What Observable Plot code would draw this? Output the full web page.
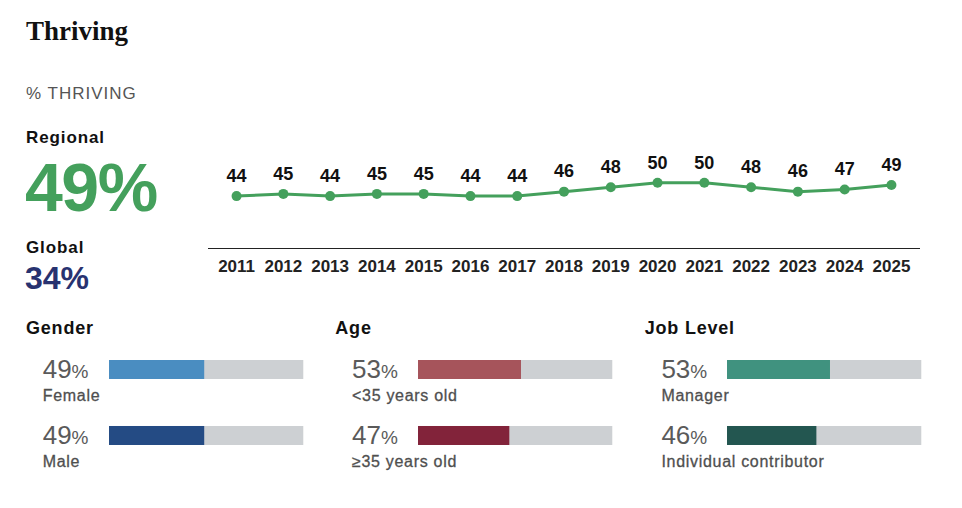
<!DOCTYPE html>
<html><head><meta charset="utf-8">
<script src="https://cdn.jsdelivr.net/npm/d3@7"></script>
<script src="https://cdn.jsdelivr.net/npm/@observablehq/plot@0.6"></script>
<style>
body{margin:0;background:#fff;}
#root{position:relative;width:962px;height:508px;overflow:hidden;font-family:"Liberation Sans",Arial,sans-serif;color:#111;}
.abs{position:absolute;white-space:nowrap;line-height:1;}
.abs svg{display:block;overflow:visible;}
</style></head><body><div id="root"></div>
<script>
// ---- data ----
const years = [2011,2012,2013,2014,2015,2016,2017,2018,2019,2020,2021,2022,2023,2024,2025];
const regional = [44,45,44,45,45,44,44,46,48,50,50,48,46,47,49];
const regionalNow = 49;
const globalNow = 34;
const groupTitles = ["Gender","Age","Job Level"];
const groupCategories = [["Female","Male"],["<35 years old","≥35 years old"],["Manager","Individual contributor"]];
const groupValues = [[49,49],[53,47],[53,46]];
const groupColors = [["#4a8dc1","#244b84"],["#a6545b","#82233a"],["#40927f","#235650"]];
const scaleMax = 100;

const green = "#44a05c";
const root = document.getElementById("root");
function addText(txt, left, top, style){
  const d = document.createElement("div");
  d.className = "abs";
  d.style.left = left + "px"; d.style.top = top + "px";
  Object.assign(d.style, style || {});
  d.innerHTML = txt;
  root.appendChild(d);
  return d;
}
function addNode(node, left, top, w){
  const d = document.createElement("div");
  d.className = "abs";
  d.style.left = left + "px"; d.style.top = top + "px";
  if (w) d.style.width = w + "px";
  d.appendChild(node);
  root.appendChild(d);
}

// header
addText("Thriving", 26, 17.6, {fontFamily:'"Liberation Serif",serif', fontWeight:"bold", fontSize:"27px", color:"#111"});
addText("% THRIVING", 26, 84.9, {fontSize:"17px", letterSpacing:"1px", color:"#555"});
addText("Regional", 26, 128.9, {fontSize:"17px", fontWeight:"bold", letterSpacing:"0.9px"});
addText(regionalNow + "%", 25, 153.1, {fontSize:"68px", fontWeight:"bold", letterSpacing:"-1.5px", color:green});
addText("Global", 26, 238.9, {fontSize:"17px", fontWeight:"bold", letterSpacing:"0.9px"});
addText(globalNow + "%", 25, 262.2, {fontSize:"32px", fontWeight:"bold", color:"#283270"});

// line chart
const lineData = years.map((y,i)=>({year:y, value:regional[i]}));
const lineChart = Plot.plot({
  width:730, height:140, marginLeft:8, marginRight:11, marginTop:1, marginBottom:32,
  style:{fontFamily:'"Liberation Sans",Arial,sans-serif', fontSize:"17px", fontWeight:"bold", color:"#222", background:"transparent"},
  x:{type:"point", domain:years, padding:0.6, round:false, tickSize:0, tickPadding:11, line:true, label:null, tickFormat:d=>String(d)},
  y:{domain:[20.5,68.5], axis:null},
  marks:[
    Plot.line(lineData,{x:"year", y:"value", stroke:green, strokeWidth:3}),
    Plot.dot(lineData,{x:"year", y:"value", r:5, fill:green, stroke:"none"}),
    Plot.text(lineData,{x:"year", y:"value", text:d=>String(d.value), dy:-20, fontSize:18, fontWeight:"bold", fill:"#111"})
  ]
});
addNode(lineChart, 200, 140, 730);

// bar groups
const groupLeft = [26, 335.3, 644.7];
groupTitles.forEach((title, g)=>{
  const gx = groupLeft[g];
  addText(title, gx, 319.1, {fontSize:"18px", fontWeight:"bold", letterSpacing:"0.8px"});
  const cats = groupCategories[g];
  const rows = cats.map((c,i)=>({cat:c, value:groupValues[g][i], color:groupColors[g][i]}));
  const bars = Plot.plot({
    width:194.3, height:132, margin:0,
    x:{domain:[0, scaleMax], axis:null},
    y:{domain:cats, axis:null, padding:0},
    color:{type:"identity"},
    marks:[
      Plot.barX(rows,{y:"cat", x1:0, x2:scaleMax, fill:"#cdd0d3", insetBottom:47}),
      Plot.barX(rows,{y:"cat", x1:0, x2:"value", fill:"color", insetBottom:47})
    ]
  });
  addNode(bars, gx + 82.6, 360, 194.3);
  rows.forEach((r,i)=>{
    addText(r.value + '<span style="font-size:19px">%</span>', gx + 16.7, 356.3 + i*65.7, {fontSize:"26px", color:"#5a5a5a"});
    addText(r.cat, gx + 16.7, 388.2 + i*65.7, {fontSize:"16px", letterSpacing:"0.7px", color:"#4f4f4f", webkitTextStroke:"0.3px #4f4f4f"});
  });
});
</script></body></html>
